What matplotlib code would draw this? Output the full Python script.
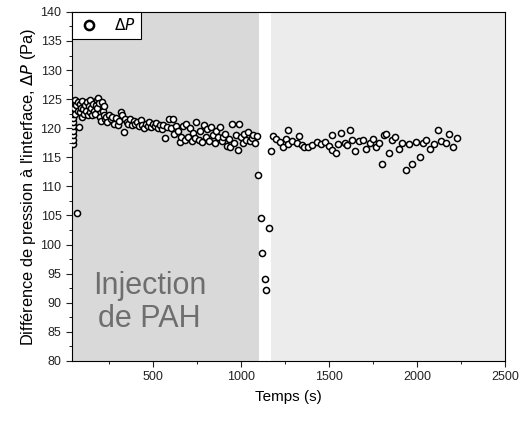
import numpy as np
import matplotlib.pyplot as plt
from matplotlib.ticker import MultipleLocator

plt.rcParams['font.family'] = ['Liberation Sans', 'DejaVu Sans']

# phase 1 : injection de PAH
t1 = [45, 45, 45, 45, 45, 45, 45, 45,
      50, 55, 60, 65, 68, 72, 76, 80, 84, 88, 92, 96, 100, 105, 110, 115, 120, 125,
      130, 135, 140, 145, 150, 155, 160, 165, 170, 175, 180, 185, 190, 195, 200, 205,
      210, 215, 220, 225, 230, 235, 240, 250, 260, 270, 280, 290, 300, 310, 320, 325,
      335, 340, 350, 360, 370, 380, 390, 400, 410, 420, 430, 440, 450, 460, 470, 480,
      490, 500, 510, 520, 530, 540, 550, 560, 571, 580, 590, 600, 615, 620, 630, 640,
      653, 660, 670, 680, 690, 700, 710, 720, 730, 740, 747, 760, 770, 780, 790, 800,
      810, 820, 830, 840, 850, 860, 870, 880, 890, 900, 910, 920, 930, 940, 950, 960,
      970, 983, 990, 1000, 1010, 1020, 1030, 1040, 1050, 1060, 1070, 1080, 1090]
dp1 = [117.3, 118.0, 118.8, 119.5, 120.3, 121.0, 121.8, 122.5,
       123.5, 124.8, 122.5, 124.0, 105.5, 123.0, 124.5, 120.2, 122.8, 124.2, 123.5, 122.0,
       124.6, 123.3, 122.5, 124.0, 123.0, 124.5, 122.2, 123.8, 124.8, 122.8, 123.5, 122.3,
       124.2, 123.0, 122.5, 124.0, 123.4, 124.8, 125.2, 124.3, 122.0, 121.2, 124.5, 123.0,
       122.3, 123.8, 121.5, 122.0, 121.0, 122.2, 121.5, 122.0, 120.8, 121.8, 120.5, 121.3,
       122.8, 122.3, 119.3, 121.5, 121.0, 120.8, 121.6, 120.5, 121.2, 120.8, 121.0, 120.3,
       121.4, 120.6, 120.0, 120.8, 120.4, 121.0, 120.2, 120.7, 120.3, 120.9, 120.0, 120.5,
       119.8, 120.6, 118.4, 120.2, 121.5, 120.0, 121.6, 119.0, 120.4, 119.5, 117.6, 118.5,
       120.3, 118.0, 120.8, 118.5, 120.0, 117.8, 119.2, 118.3, 121.0, 118.0, 119.5, 117.6,
       120.5, 118.5, 119.8, 117.8, 120.2, 118.8, 117.5, 119.5, 118.5, 120.2, 117.8, 118.5,
       119.0, 117.0, 118.2, 116.8, 120.7, 117.5, 118.8, 116.2, 120.8, 118.5, 117.5, 119.0,
       118.0, 119.3, 117.8, 118.3, 118.8, 117.5, 118.6]

# chute de pression
t2 = [1096, 1113, 1119, 1136, 1142, 1159]
dp2 = [111.9, 104.5, 98.6, 94.1, 92.2, 102.9]

# phase 2
t3 = [1170, 1183, 1201, 1222, 1240, 1256, 1269, 1269, 1291, 1316, 1331, 1344, 1359, 1382,
      1405, 1430, 1454, 1477, 1500, 1519, 1519, 1540, 1553, 1568, 1591, 1600, 1619, 1629,
      1648, 1670, 1694, 1713, 1733, 1752, 1765, 1784, 1803, 1813, 1822, 1841, 1859, 1873,
      1898, 1916, 1935, 1954, 1973, 1995, 2015, 2034, 2053, 2075, 2094, 2119, 2138, 2162,
      2181, 2204, 2227]
dp3 = [116.1, 118.7, 118.1, 117.7, 116.7, 118.1, 119.7, 117.2, 117.8, 117.4, 118.7, 117.1,
       116.7, 116.8, 117.1, 117.6, 117.3, 117.6, 116.9, 118.8, 116.3, 115.8, 117.2, 119.2,
       117.4, 117.1, 119.7, 117.9, 116.1, 117.8, 117.9, 116.4, 117.5, 118.2, 116.7, 117.5,
       113.9, 118.8, 119.0, 115.7, 117.9, 118.5, 116.5, 117.4, 112.8, 117.2, 113.9, 117.7,
       115.1, 117.5, 117.9, 116.4, 117.2, 119.7, 117.8, 117.4, 119.0, 116.8, 118.3]

t = np.array(t1 + t2 + t3)
dp = np.array(dp1 + dp2 + dp3)

injection_end = 1102
phase2_start = 1170

fig = plt.figure(figsize=(5.25, 4.25), dpi=100)
ax = fig.add_axes([0.137, 0.151, 0.825, 0.821])

ax.axvspan(40, injection_end, color='#d9d9d9', lw=0, zorder=0)
ax.axvspan(phase2_start, 2500, color='#ececec', lw=0, zorder=0)

ax.plot(t, dp, 'o', ms=4.4, mfc='white', mec='black', mew=1.1, ls='none',
        label=r'$\Delta P$', zorder=3)

ax.text(482, 90, 'Injection\nde PAH', ha='center', va='center', fontsize=22,
        color='#6e6e6e', linespacing=1.15)

ax.set_xlim(40, 2500)
ax.set_ylim(80, 140)
ax.xaxis.set_major_locator(MultipleLocator(500))
ax.xaxis.set_minor_locator(MultipleLocator(250))
ax.yaxis.set_major_locator(MultipleLocator(5))
ax.yaxis.set_minor_locator(MultipleLocator(2.5))
ax.tick_params(which='major', direction='out', length=4, labelsize=9, colors='#222222')
ax.tick_params(which='minor', direction='out', length=2)

ax.set_xlabel('Temps (s)', fontsize=11, labelpad=5)
ax.set_ylabel(r"Différence de pression à l'interface, $\Delta P$ (Pa)", fontsize=11.8,
              labelpad=2)

leg = ax.legend(loc='upper left', borderaxespad=0, fancybox=False, framealpha=1,
                edgecolor='black', fontsize=11, handletextpad=0.9, borderpad=0.35,
                handlelength=1.5, markerscale=1.5)
leg.get_frame().set_linewidth(0.8)
leg.legend_handles[0].set_markeredgewidth(1.8)

fig.savefig('out.png', dpi=100)
